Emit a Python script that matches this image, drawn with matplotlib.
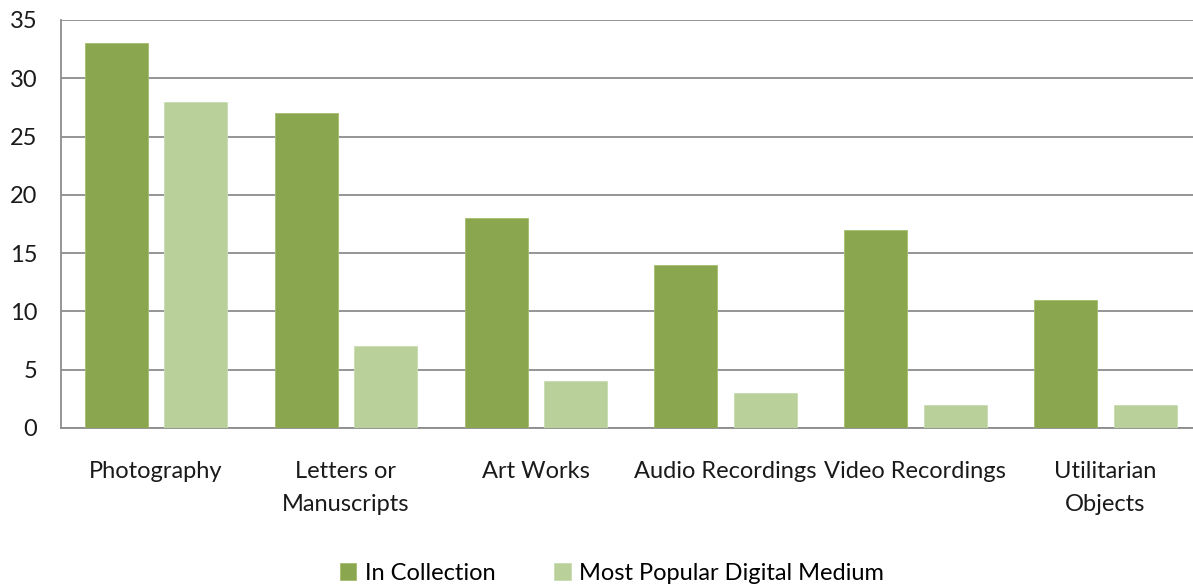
import matplotlib
matplotlib.use("Agg")
import matplotlib.pyplot as plt
import numpy as np

categories = ["Photography", "Letters or\nManuscripts", "Art Works",
              "Audio Recordings", "Video Recordings", "Utilitarian\nObjects"]
in_collection = [33, 27, 18, 14, 17, 11]
most_popular = [28, 7, 4, 3, 2, 2]
y_ticks = [0, 5, 10, 15, 20, 25, 30, 35]

plt.rcParams['font.family'] = ['Lato', 'DejaVu Sans']

fig = plt.figure(figsize=(11.93, 5.86), dpi=100)
ax = fig.add_axes([61 / 1193, 1 - 428 / 586, 1139 / 1193, 408 / 586])

x = np.arange(len(categories))
w = 0.332
ax.bar(x - 0.208, in_collection, width=w, color="#8aa64f", edgecolor="#a4bd6c",
       linewidth=0.6, label="In Collection", zorder=3)
ax.bar(x + 0.211, most_popular, width=w, color="#b9d09a", edgecolor="#c9dcb0",
       linewidth=0.6, label="Most Popular Digital Medium", zorder=3)

ax.set_xlim(-0.5, len(categories) - 0.5)
ax.set_ylim(0, 35)
ax.set_yticks(y_ticks)
ax.yaxis.grid(True, color="#8c8c8c", linewidth=1.3, zorder=0)
ax.set_axisbelow(True)
for side in ["top", "right"]:
    ax.spines[side].set_visible(False)
for side in ["left", "bottom"]:
    ax.spines[side].set_color("#8c8c8c")
    ax.spines[side].set_linewidth(1.3)
ax.tick_params(axis="y", length=0, pad=17, labelsize=17, labelcolor="#1a1a1a")
ax.tick_params(axis="x", length=0, pad=24, labelsize=17, labelcolor="#1a1a1a")
ax.set_xticks(x)
ax.set_xticklabels(categories, linespacing=1.7, va="top")

fig.legend(loc="lower center", bbox_to_anchor=(0.513, -0.032), ncol=2, frameon=False,
           fontsize=17, handlelength=0.7, handleheight=0.7, handletextpad=0.35,
           columnspacing=2.5)

fig.savefig("out.png", dpi=100, facecolor="white")
